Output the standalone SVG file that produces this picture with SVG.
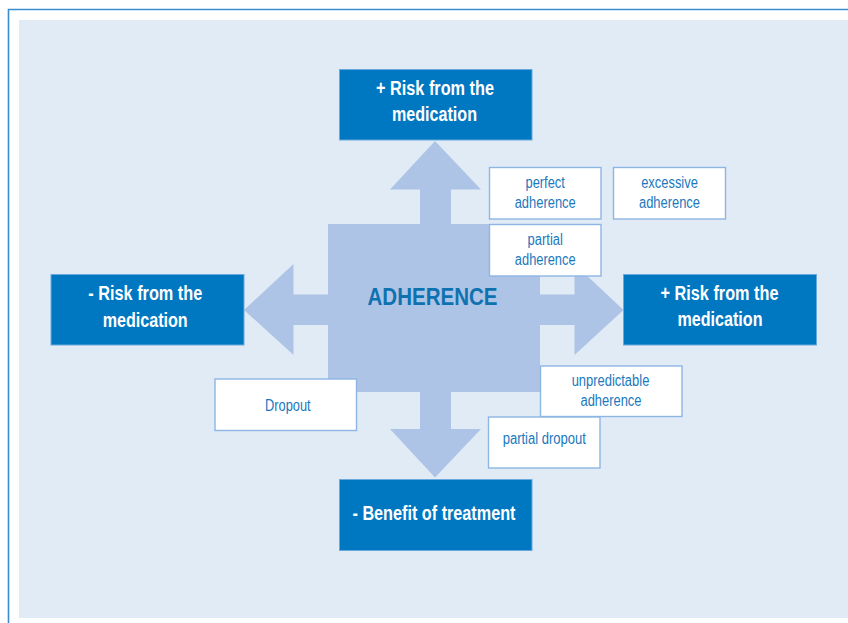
<svg xmlns="http://www.w3.org/2000/svg" width="848" height="623" viewBox="0 0 848 623">
  <style>
    .big rect { fill: #0077c1; stroke: #6aa9dd; stroke-width: 1; }
    .big text { fill: #ffffff; font-family: "Liberation Sans", Arial, sans-serif; font-weight: bold; font-size: 19.5px; text-anchor: middle; }
    .small rect { fill: #ffffff; stroke: #8db6e4; stroke-width: 1.4; }
    .small text { fill: #1a78bd; font-family: "Liberation Sans", Arial, sans-serif; font-size: 16px; text-anchor: middle; }
    .arrow { fill: #aec4e6; }
  </style>
  <rect x="0" y="0" width="848" height="623" fill="#ffffff"/>
  <rect x="19" y="20" width="829" height="598" fill="#e1ebf6"/>
  <path d="M8.5 623 V9.5 H848" fill="none" stroke="#3a8dcf" stroke-width="1.6"/>

  <g id="connectors">
    <polygon class="arrow" points="420,224 420,189.5 390,189.5 435,141 481,189.5 451,189.5 451,224"/>
    <polygon class="arrow" points="420,391 420,429 390,429 435,477.5 481,429 451,429 451,391"/>
    <polygon class="arrow" points="328,294.5 293.5,294.5 293.5,264 244,310 293.5,355 293.5,325 328,325"/>
    <polygon class="arrow" points="540,294.5 574.5,294.5 574.5,264 623.5,310 574.5,355 574.5,325 540,325"/>
  </g>

  <g id="adherence">
    <rect x="328" y="224" width="212" height="168" fill="#aec4e6"/>
    <text x="432.5" y="305" fill="#0f72b0" font-family="'Liberation Sans', Arial, sans-serif" font-weight="bold" font-size="24.5" text-anchor="middle" textLength="130" lengthAdjust="spacingAndGlyphs">ADHERENCE</text>
  </g>

  <g id="top-risk" class="big">
    <rect x="339.5" y="69.5" width="192.5" height="70.5"/>
    <text x="435" y="95" textLength="118" lengthAdjust="spacingAndGlyphs">+ Risk from the</text>
    <text x="434.5" y="120.5" textLength="85" lengthAdjust="spacingAndGlyphs">medication</text>
  </g>
  <g id="left-risk" class="big">
    <rect x="51" y="274.5" width="193" height="70.5"/>
    <text x="145.3" y="300" textLength="114" lengthAdjust="spacingAndGlyphs">- Risk from the</text>
    <text x="145.2" y="326.5" textLength="85" lengthAdjust="spacingAndGlyphs">medication</text>
  </g>
  <g id="right-risk" class="big">
    <rect x="623.5" y="274.5" width="193" height="70.5"/>
    <text x="719.5" y="299.5" textLength="118" lengthAdjust="spacingAndGlyphs">+ Risk from the</text>
    <text x="720" y="326" textLength="85" lengthAdjust="spacingAndGlyphs">medication</text>
  </g>
  <g id="benefit" class="big">
    <rect x="339.5" y="479.5" width="192.5" height="71"/>
    <text x="434" y="519.5" textLength="163" lengthAdjust="spacingAndGlyphs">- Benefit of treatment</text>
  </g>

  <g id="perfect-adherence" class="small">
    <rect x="489.5" y="167.5" width="111.5" height="51.5"/>
    <text x="545.2" y="187.7" textLength="39.3" lengthAdjust="spacingAndGlyphs">perfect</text>
    <text x="545.2" y="208.3" textLength="61" lengthAdjust="spacingAndGlyphs">adherence</text>
  </g>
  <g id="excessive-adherence" class="small">
    <rect x="613.5" y="167.5" width="112" height="51.5"/>
    <text x="669.5" y="187.7" textLength="56.7" lengthAdjust="spacingAndGlyphs">excessive</text>
    <text x="669.5" y="208.3" textLength="61" lengthAdjust="spacingAndGlyphs">adherence</text>
  </g>
  <g id="partial-adherence" class="small">
    <rect x="489.5" y="224.5" width="111.5" height="51.5"/>
    <text x="545.2" y="244.5" textLength="35.3" lengthAdjust="spacingAndGlyphs">partial</text>
    <text x="545.2" y="265" textLength="60.7" lengthAdjust="spacingAndGlyphs">adherence</text>
  </g>
  <g id="dropout" class="small">
    <rect x="215" y="379" width="141.5" height="51.5"/>
    <text x="287.8" y="410.7" textLength="45.7" lengthAdjust="spacingAndGlyphs">Dropout</text>
  </g>
  <g id="unpredictable-adherence" class="small">
    <rect x="540.5" y="366" width="141.5" height="50.5"/>
    <text x="610.5" y="386" textLength="77.7" lengthAdjust="spacingAndGlyphs">unpredictable</text>
    <text x="611" y="405.7" textLength="61" lengthAdjust="spacingAndGlyphs">adherence</text>
  </g>
  <g id="partial-dropout" class="small">
    <rect x="488.5" y="417" width="111.5" height="51"/>
    <text x="544.3" y="444.3" textLength="83.3" lengthAdjust="spacingAndGlyphs">partial dropout</text>
  </g>
</svg>
